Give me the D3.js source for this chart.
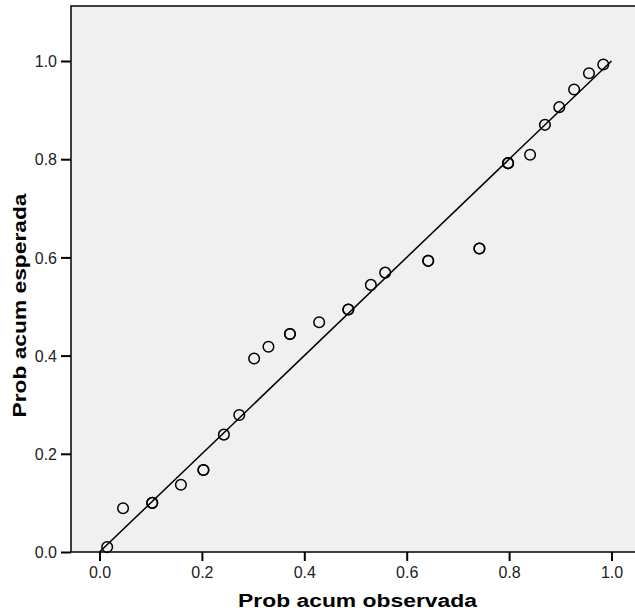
<!DOCTYPE html>
<html>
<head>
<meta charset="utf-8">
<script src="https://cdn.jsdelivr.net/npm/d3@7"></script>
<style>
  body { margin: 0; background: #fff; }
  text { font-family: "Liberation Sans", Arial, sans-serif; fill: #000; }
</style>
</head>
<body>
<div id="chart"></div>
<script>
// observed vs expected cumulative probability (P-P plot)
var observed = [0.015, 0.046, 0.103, 0.103, 0.159, 0.203, 0.203, 0.243, 0.273, 0.302,
                0.330, 0.372, 0.372, 0.429, 0.486, 0.486, 0.530, 0.558, 0.642, 0.642,
                0.742, 0.742, 0.798, 0.798, 0.841, 0.870, 0.898, 0.927, 0.956, 0.984];
var expected = [0.010, 0.089, 0.100, 0.100, 0.137, 0.167, 0.167, 0.239, 0.279, 0.394,
                0.418, 0.444, 0.444, 0.468, 0.494, 0.494, 0.544, 0.569, 0.593, 0.593,
                0.618, 0.618, 0.792, 0.792, 0.809, 0.870, 0.906, 0.942, 0.975, 0.993];
var tickValues = [0.0, 0.2, 0.4, 0.6, 0.8, 1.0];
var xTitle = "Prob acum observada";
var yTitle = "Prob acum esperada";

var width = 635, height = 615;

var svg = d3.select("#chart").append("svg")
    .attr("width", width)
    .attr("height", height);

// scales: data 0..1 mapped onto pixel positions
var x = d3.scaleLinear().domain([0, 1]).range([99.5, 611.5]);
var y = d3.scaleLinear().domain([0, 1]).range([552, 61]);

// frame of the plot area (right edge runs off the picture)
var frameL = 71, frameT = 6, frameR = 640, frameB = 552;

// plot background
svg.append("rect")
    .attr("x", frameL).attr("y", frameT)
    .attr("width", frameR - frameL).attr("height", frameB - frameT)
    .style("fill", "#f0f0f0")
    .style("stroke", "#000")
    .style("stroke-width", 1.5);

// axes
var yAxis = d3.axisLeft(y).tickValues(tickValues).tickSize(10).tickPadding(4)
    .tickFormat(d3.format(".1f"));
var xAxis = d3.axisBottom(x).tickValues(tickValues).tickSize(9).tickPadding(6)
    .tickFormat(d3.format(".1f"));

var gy = svg.append("g").attr("transform", "translate(" + frameL + ",0)").call(yAxis);
var gx = svg.append("g").attr("transform", "translate(0," + frameB + ")").call(xAxis);

[gy, gx].forEach(function(g) {
    g.select(".domain").remove();
    g.selectAll(".tick line").style("stroke", "#000").style("stroke-width", 2);
    g.selectAll(".tick text")
        .style("font-size", "16px")
        .style("font-family", '"Liberation Sans", Arial, sans-serif')
        .style("fill", "#222");
});
gy.selectAll(".tick text").attr("dy", "0.36em");

// reference line y = x
svg.append("line")
    .attr("x1", x(0)).attr("y1", y(0))
    .attr("x2", x(1)).attr("y2", y(1))
    .style("stroke", "#000")
    .style("stroke-width", 1.5);

// points
svg.selectAll("circle.pt").data(observed)
    .enter().append("circle")
    .attr("class", "pt")
    .attr("cx", function(d) { return x(d); })
    .attr("cy", function(d, i) { return y(expected[i]); })
    .attr("r", 5.3)
    .style("fill", "none")
    .style("stroke", "#000")
    .style("stroke-width", 1.5);

// axis titles
svg.append("text")
    .attr("x", x(0.5) + 2)
    .attr("y", 607)
    .attr("text-anchor", "middle")
    .attr("textLength", 239)
    .attr("lengthAdjust", "spacingAndGlyphs")
    .style("font-size", "18px")
    .style("font-weight", "bold")
    .text(xTitle);

svg.append("text")
    .attr("transform", "translate(26," + (y(0.5) - 1) + ") rotate(-90)")
    .attr("text-anchor", "middle")
    .attr("textLength", 224)
    .attr("lengthAdjust", "spacingAndGlyphs")
    .style("font-size", "18px")
    .style("font-weight", "bold")
    .text(yTitle);
</script>
</body>
</html>
